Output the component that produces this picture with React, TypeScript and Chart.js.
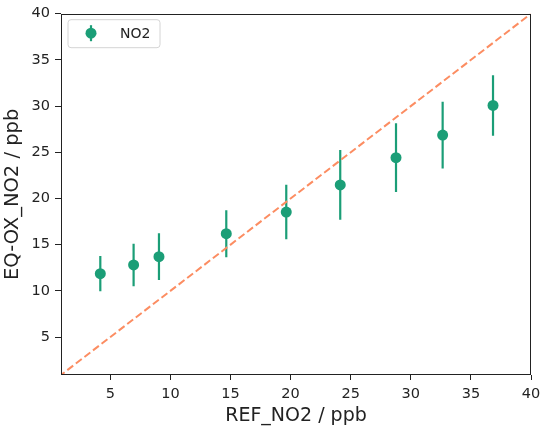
import React, { useEffect, useRef } from "react";
import { Chart, registerables } from "chart.js";

Chart.register(...registerables);

// ---- data ----
const refNO2 = [4.17, 6.94, 9.05, 14.65, 19.64, 24.13, 28.77, 32.65, 36.84];
const eqNO2 = [11.87, 12.81, 13.71, 16.19, 18.53, 21.47, 24.42, 26.87, 30.07];
const eqNO2Err = [1.9, 2.3, 2.52, 2.55, 2.95, 3.78, 3.72, 3.61, 3.27];
const oneToOne = [0, 40];
const xTickValues = [5, 10, 15, 20, 25, 30, 35, 40];
const yTickValues = [5, 10, 15, 20, 25, 30, 35, 40];
const axisMin = 0.9;
const axisMax = 40;
const seriesLabel = "NO2";
const xTitle = "REF_NO2 / ppb";
const yTitle = "EQ-OX_NO2 / ppb";

const GREEN = "#1b9e77";
const ORANGE = "#fc8d62";
const INK = "#222222";
const FONT = "'DejaVu Sans', sans-serif";

const errorBarPlugin = {
  id: "errorBars",
  beforeDatasetsDraw(chart: any) {
    const { ctx, chartArea } = chart;
    const x = chart.scales.x;
    const y = chart.scales.y;
    ctx.save();
    ctx.beginPath();
    ctx.rect(chartArea.left, chartArea.top, chartArea.right - chartArea.left, chartArea.bottom - chartArea.top);
    ctx.clip();
    ctx.strokeStyle = GREEN;
    ctx.lineWidth = 2.2;
    ctx.lineCap = "butt";
    refNO2.forEach((xv, i) => {
      const px = x.getPixelForValue(xv);
      ctx.beginPath();
      ctx.moveTo(px, y.getPixelForValue(eqNO2[i] - eqNO2Err[i]));
      ctx.lineTo(px, y.getPixelForValue(eqNO2[i] + eqNO2Err[i]));
      ctx.stroke();
    });
    ctx.restore();
  },
};

const framePlugin = {
  id: "frameAndLegend",
  afterDraw(chart: any) {
    const { ctx, chartArea } = chart;
    ctx.save();
    ctx.strokeStyle = INK;
    ctx.lineWidth = 1;
    ctx.strokeRect(
      Math.round(chartArea.left) + 0.5,
      Math.round(chartArea.top) + 0.5,
      Math.round(chartArea.right - chartArea.left) - 1,
      Math.round(chartArea.bottom - chartArea.top) - 1
    );

    // legend box
    const lx = chartArea.left + 7;
    const ly = chartArea.top + 6;
    const w = 92;
    const h = 28;
    const r = 3;
    ctx.beginPath();
    ctx.moveTo(lx + r, ly);
    ctx.lineTo(lx + w - r, ly);
    ctx.arcTo(lx + w, ly, lx + w, ly + r, r);
    ctx.lineTo(lx + w, ly + h - r);
    ctx.arcTo(lx + w, ly + h, lx + w - r, ly + h, r);
    ctx.lineTo(lx + r, ly + h);
    ctx.arcTo(lx, ly + h, lx, ly + h - r, r);
    ctx.lineTo(lx, ly + r);
    ctx.arcTo(lx, ly, lx + r, ly, r);
    ctx.closePath();
    ctx.fillStyle = "rgba(255,255,255,0.85)";
    ctx.fill();
    ctx.strokeStyle = "#d4d4d4";
    ctx.lineWidth = 1;
    ctx.stroke();

    const mx = lx + 23;
    const my = ly + 13.5;
    ctx.strokeStyle = GREEN;
    ctx.lineWidth = 2.2;
    ctx.beginPath();
    ctx.moveTo(mx, my - 8);
    ctx.lineTo(mx, my + 8);
    ctx.stroke();
    ctx.fillStyle = GREEN;
    ctx.beginPath();
    ctx.arc(mx, my, 5.5, 0, Math.PI * 2);
    ctx.fill();

    ctx.fillStyle = INK;
    ctx.font = `14px ${FONT}`;
    ctx.textAlign = "left";
    ctx.textBaseline = "middle";
    ctx.fillText(seriesLabel, lx + 52, ly + 14.5);
    ctx.restore();
  },
};

export default function App() {
  const canvasRef = useRef<HTMLCanvasElement | null>(null);

  useEffect(() => {
    if (!canvasRef.current) return;
    const chart = new Chart(canvasRef.current, {
      type: "scatter",
      data: {
        datasets: [
          {
            type: "scatter",
            label: seriesLabel,
            data: refNO2.map((xv, i) => ({ x: xv, y: eqNO2[i] })),
            pointRadius: 5.5,
            pointHoverRadius: 5.5,
            pointBackgroundColor: GREEN,
            pointBorderWidth: 0,
            borderColor: GREEN,
            showLine: false,
          },
          {
            type: "line",
            label: "1:1",
            data: oneToOne.map((v) => ({ x: v, y: v })),
            borderColor: ORANGE,
            borderWidth: 2,
            borderDash: [7.4, 3.4],
            pointRadius: 0,
            fill: false,
            clip: 0,
          } as any,
        ],
      },
      options: {
        responsive: false,
        animation: false,
        layout: { padding: { left: 0, right: 19, top: 12, bottom: 0 } },
        plugins: {
          legend: { display: false },
          tooltip: { enabled: false },
        },
        scales: {
          x: {
            type: "linear",
            min: axisMin,
            max: axisMax,
            afterBuildTicks: (s: any) => {
              s.ticks = xTickValues.map((v) => ({ value: v }));
            },
            afterFit: (s: any) => {
              s.height = 73;
            },
            grid: {
              drawOnChartArea: false,
              drawTicks: true,
              tickLength: 5,
              tickColor: INK,
              tickWidth: 1,
            },
            border: { display: false },
            ticks: {
              color: INK,
              font: { family: FONT, size: 14.5 },
              padding: 6,
              maxRotation: 0,
              autoSkip: false,
            },
            title: {
              display: true,
              text: xTitle,
              color: INK,
              font: { family: FONT, size: 19 },
              padding: { top: 0, bottom: 21 },
            },
          },
          y: {
            type: "linear",
            min: axisMin,
            max: axisMax,
            afterBuildTicks: (s: any) => {
              s.ticks = yTickValues.map((v) => ({ value: v }));
            },
            afterFit: (s: any) => {
              s.width = 61;
            },
            grid: {
              drawOnChartArea: false,
              drawTicks: true,
              tickLength: 6,
              tickColor: INK,
              tickWidth: 1,
            },
            border: { display: false },
            ticks: {
              color: INK,
              font: { family: FONT, size: 14.5 },
              padding: 5,
              autoSkip: false,
            },
            title: {
              display: true,
              text: yTitle,
              color: INK,
              font: { family: FONT, size: 19.5 },
              padding: { top: 1.5, bottom: 0 },
            },
          },
        },
      },
      plugins: [errorBarPlugin, framePlugin],
    });
    return () => chart.destroy();
  }, []);

  return (
    <div style={{ position: "absolute", left: 0, top: 0, width: 550, height: 448, background: "#fff" }}>
      <canvas ref={canvasRef} width={550} height={448} />
    </div>
  );
}
